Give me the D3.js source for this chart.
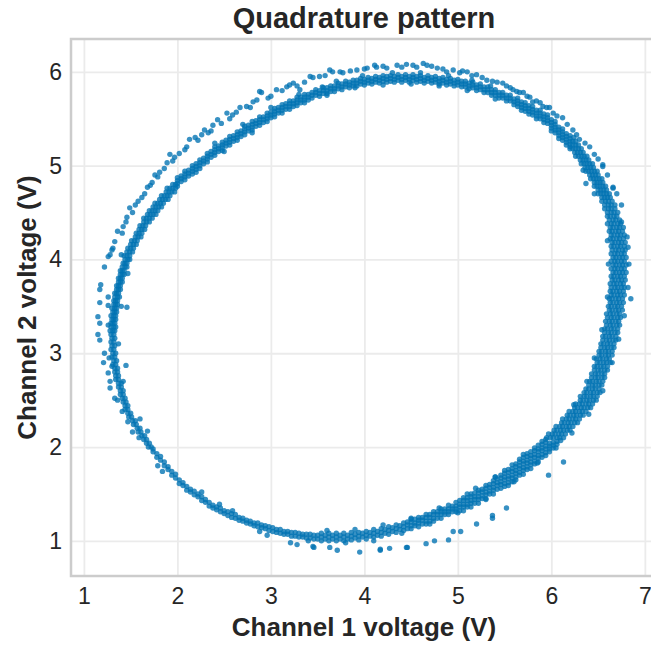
<!DOCTYPE html>
<html>
<head>
<meta charset="utf-8">
<script src="https://cdn.jsdelivr.net/npm/d3@7"></script>
<style>
  html, body { margin: 0; background: #fff; }
  svg { display: block; }
</style>
</head>
<body>
<svg id="chart" width="651" height="647"></svg>
<script>
// Axis ticks and labels
const xTicks = [1, 2, 3, 4, 5, 6, 7];
const yTicks = [1, 2, 3, 4, 5, 6];
const titleText = "Quadrature pattern";
const xLabelText = "Channel 1 voltage (V)";
const yLabelText = "Channel 2 voltage (V)";

// Left side of the loop: [ch2, ch1, ch1, ...]
const leftRows = [
  [2.00,1.69,1.72],[2.04,1.67,1.70],[2.08,1.64,1.67],[2.12,1.62,1.65],[2.16,1.58,1.61],
  [2.20,1.57,1.60],[2.24,1.53,1.56],[2.28,1.52,1.55],[2.32,1.48,1.51],[2.36,1.47,1.50],
  [2.40,1.44,1.47],[2.44,1.44,1.47],[2.48,1.42,1.45],[2.52,1.41,1.44],[2.56,1.39,1.42],
  [2.60,1.39,1.42],[2.64,1.37,1.40],[2.68,1.37,1.40],[2.72,1.34,1.37],[2.76,1.34,1.37],
  [2.80,1.33,1.36],[2.84,1.33,1.36],[2.88,1.31,1.34],[2.92,1.32,1.35],[2.96,1.30,1.33],
  [3.00,1.31,1.34],[3.04,1.29,1.32],[3.08,1.30,1.33],[3.12,1.29,1.32],[3.16,1.30,1.33],
  [3.20,1.29,1.32],[3.24,1.28,1.31,1.33],[3.28,1.29,1.32,1.34],[3.32,1.29,1.31,1.33],
  [3.36,1.30,1.32,1.34],[3.40,1.29,1.32,1.34],[3.44,1.31,1.33,1.35],[3.48,1.30,1.33,1.35],
  [3.52,1.32,1.34,1.36],[3.56,1.32,1.34,1.36],[3.60,1.33,1.36,1.38],[3.64,1.33,1.35,1.37],
  [3.68,1.35,1.37,1.39],[3.72,1.35,1.37,1.39],[3.76,1.37,1.39,1.41],[3.80,1.37,1.39,1.41],
  [3.84,1.39,1.41,1.43],[3.88,1.39,1.41,1.43],[3.92,1.41,1.44,1.46],[3.96,1.42,1.44,1.46],
  [4.00,1.44,1.47,1.49],[4.04,1.43,1.46,1.49],[4.08,1.46,1.49,1.52],[4.12,1.47,1.50,1.53],
  [4.16,1.50,1.53,1.56],[4.20,1.51,1.54,1.57],[4.24,1.55,1.58,1.61],[4.28,1.56,1.59,1.62],
  [4.32,1.59,1.62,1.65],[4.36,1.60,1.63,1.66],[4.40,1.64,1.67,1.70],
  [4.44,1.64,1.67,1.70,1.73],[4.48,1.68,1.71,1.74,1.77],[4.52,1.70,1.73,1.76,1.79],
  [4.56,1.74,1.77,1.80,1.83],[4.60,1.76,1.79,1.82,1.85],[4.64,1.81,1.84,1.87,1.90],
  [4.68,1.83,1.86,1.89,1.92],[4.72,1.88,1.91,1.94,1.97],[4.76,1.89,1.92,1.95,1.98],
  [4.80,1.95,1.98]
];

// Upper arc of the loop: [ch1, ch2, ch2, ...]
const topRows = [
  [2.00,4.78,4.81,4.84,4.87],[2.04,4.83,4.86,4.89],[2.08,4.85,4.88,4.91,4.94],[2.12,4.89,4.92,4.95],
  [2.16,4.91,4.94,4.97,5.00],[2.20,4.96,4.99,5.02],[2.24,4.97,5.00,5.03,5.06],[2.28,5.02,5.05,5.08],
  [2.32,5.04,5.07,5.10,5.13],[2.36,5.09,5.12,5.15],[2.40,5.11,5.14,5.17,5.20],[2.44,5.15,5.18,5.21],
  [2.48,5.16,5.19,5.22,5.25],[2.52,5.21,5.24,5.27],[2.56,5.22,5.25,5.28,5.31],[2.60,5.26,5.29,5.32],
  [2.64,5.27,5.30,5.33,5.36],[2.68,5.31,5.34,5.37],[2.72,5.33,5.36,5.39,5.42],[2.76,5.37,5.40,5.43],
  [2.80,5.38,5.41,5.44,5.47],[2.84,5.42,5.45,5.48],[2.88,5.43,5.46,5.49,5.52],[2.92,5.46,5.49,5.52],
  [2.96,5.47,5.50,5.53,5.56],[3.00,5.51,5.54,5.57],[3.04,5.52,5.55,5.58,5.61],[3.08,5.56,5.59,5.62],
  [3.12,5.56,5.59,5.62,5.65],[3.16,5.60,5.63,5.66],[3.20,5.60,5.63,5.66,5.69],[3.24,5.63,5.66,5.69],
  [3.28,5.64,5.67,5.70,5.73],[3.32,5.67,5.70,5.73],[3.36,5.67,5.70,5.73,5.76],[3.40,5.70,5.73,5.76],
  [3.44,5.72,5.75,5.78],[3.48,5.75,5.78,5.81],[3.52,5.74,5.77,5.80],[3.56,5.77,5.80,5.83],
  [3.60,5.77,5.80,5.83],[3.64,5.79,5.82,5.85],[3.68,5.79,5.82,5.85],[3.72,5.82,5.85,5.88],
  [3.76,5.81,5.84,5.87],[3.80,5.84,5.87,5.90],[3.84,5.83,5.86,5.89],[3.88,5.85,5.88,5.91],
  [3.92,5.85,5.88,5.91],[3.96,5.87,5.90,5.93],[4.00,5.86,5.89,5.92],[4.04,5.88,5.91,5.94],
  [4.08,5.87,5.90,5.93],[4.12,5.89,5.92,5.95],[4.16,5.88,5.91,5.94],[4.20,5.90,5.93,5.96],
  [4.24,5.89,5.92,5.95],[4.28,5.90,5.93,5.96],[4.32,5.89,5.92,5.95],[4.36,5.91,5.94,5.97],
  [4.40,5.89,5.92,5.95],[4.44,5.91,5.94,5.97],[4.48,5.89,5.92,5.95],[4.52,5.91,5.94,5.97],
  [4.56,5.89,5.92,5.95],[4.60,5.90,5.93,5.96],[4.64,5.88,5.91,5.94],[4.68,5.90,5.93,5.96],
  [4.72,5.88,5.91,5.94],[4.76,5.89,5.92,5.95],[4.80,5.87,5.90,5.93],[4.84,5.88,5.91,5.94],
  [4.88,5.86,5.89,5.92],[4.92,5.87,5.90,5.93],[4.96,5.85,5.88,5.91],[5.00,5.86,5.89,5.92],
  [5.04,5.84,5.87,5.90],[5.08,5.84,5.87,5.90],[5.12,5.82,5.85,5.88],[5.16,5.83,5.86,5.89],
  [5.20,5.80,5.83,5.86],[5.24,5.81,5.84,5.87],[5.28,5.78,5.81,5.84],[5.32,5.78,5.81,5.84],
  [5.36,5.75,5.78,5.81],[5.40,5.75,5.78,5.81],[5.44,5.72,5.75,5.78],[5.48,5.72,5.75,5.78],
  [5.52,5.69,5.72,5.75],[5.56,5.69,5.72,5.75],[5.60,5.65,5.68,5.71],
  [5.64,5.63,5.66,5.69,5.72],[5.68,5.59,5.62,5.65,5.68],[5.72,5.58,5.61,5.64,5.67],
  [5.76,5.55,5.58,5.61,5.64],[5.80,5.54,5.57,5.60,5.63],[5.84,5.50,5.53,5.56,5.59],
  [5.88,5.50,5.53,5.56,5.59],[5.92,5.46,5.49,5.52,5.55],[5.96,5.45,5.48,5.51,5.54],
  [6.00,5.37,5.40,5.43,5.46,5.49],[6.04,5.35,5.38,5.41,5.44,5.47],[6.08,5.29,5.32,5.35,5.38,5.41],
  [6.12,5.27,5.30,5.33,5.36,5.39],[6.16,5.22,5.25,5.28,5.31,5.34],[6.20,5.20,5.23,5.26,5.29,5.32]
];

// Right side of the loop: [ch2, ch1, ch1, ...]
const rightRows = [
  [5.30,6.24],[5.26,6.23,6.26],[5.22,6.23,6.26,6.29],
  [5.18,6.20,6.23,6.26,6.29,6.32],[5.14,6.25,6.28,6.31,6.34],[5.10,6.26,6.29,6.32,6.35,6.38],
  [5.06,6.31,6.34,6.37,6.40],[5.02,6.32,6.35,6.38,6.41,6.44],[4.98,6.36,6.39,6.42,6.45],
  [4.94,6.37,6.40,6.43,6.46,6.49],[4.90,6.41,6.44,6.47,6.50],[4.86,6.42,6.45,6.48,6.51,6.54],
  [4.82,6.46,6.49,6.52,6.55],[4.78,6.46,6.49,6.52,6.55,6.58],[4.74,6.50,6.53,6.56,6.59],
  [4.70,6.50,6.53,6.56,6.59,6.62],[4.66,6.54,6.57,6.60,6.63],
  [4.62,6.54,6.58,6.61,6.65],[4.58,6.57,6.61,6.64,6.68],[4.54,6.57,6.61,6.64,6.68],
  [4.50,6.60,6.64,6.67,6.71],[4.46,6.60,6.63,6.67,6.70],[4.42,6.62,6.66,6.69,6.73],
  [4.38,6.60,6.64,6.67,6.71,6.74],[4.34,6.63,6.66,6.70,6.73,6.77],[4.30,6.62,6.65,6.69,6.72,6.76],
  [4.26,6.64,6.67,6.71,6.74,6.78],[4.22,6.63,6.66,6.70,6.73,6.77],[4.18,6.65,6.68,6.72,6.75,6.79],
  [4.14,6.64,6.67,6.71,6.74,6.78],[4.10,6.65,6.69,6.72,6.76,6.79],[4.06,6.64,6.68,6.71,6.75,6.78],
  [4.02,6.66,6.69,6.73,6.76,6.80],[3.98,6.64,6.68,6.71,6.75,6.78],[3.94,6.66,6.69,6.73,6.76,6.80],
  [3.90,6.64,6.68,6.71,6.75,6.78],[3.86,6.66,6.69,6.73,6.76,6.80],[3.82,6.64,6.67,6.71,6.74,6.78],
  [3.78,6.65,6.68,6.72,6.75,6.79],[3.74,6.63,6.67,6.70,6.74,6.77],[3.70,6.64,6.68,6.71,6.75,6.78],
  [3.66,6.63,6.66,6.70,6.73,6.77],[3.62,6.64,6.67,6.71,6.74,6.78],[3.58,6.62,6.65,6.69,6.72,6.76],
  [3.54,6.63,6.66,6.70,6.73,6.77],[3.50,6.61,6.64,6.68,6.71,6.75],[3.46,6.62,6.65,6.69,6.72,6.76],
  [3.42,6.59,6.63,6.66,6.70,6.73],[3.38,6.60,6.64,6.67,6.71,6.74],[3.34,6.58,6.62,6.65,6.69,6.72],
  [3.30,6.59,6.63,6.66,6.70,6.73],[3.26,6.57,6.60,6.64,6.67,6.71],[3.22,6.57,6.61,6.64,6.68,6.71],
  [3.18,6.55,6.58,6.62,6.65,6.69],[3.14,6.55,6.59,6.62,6.66,6.69],[3.10,6.53,6.56,6.60,6.63,6.67],
  [3.06,6.53,6.57,6.60,6.64,6.67],[3.02,6.51,6.54,6.58,6.61,6.65],[2.98,6.51,6.54,6.58,6.61,6.65],
  [2.94,6.48,6.52,6.55,6.59,6.62],[2.90,6.49,6.52,6.56,6.59,6.63],[2.86,6.46,6.49,6.53,6.56,6.60],
  [2.82,6.46,6.50,6.53,6.57,6.60],[2.78,6.43,6.47,6.50,6.54,6.57],[2.74,6.43,6.47,6.50,6.54,6.57],
  [2.70,6.41,6.44,6.48,6.51,6.55],[2.66,6.40,6.44,6.47,6.51,6.54],[2.62,6.37,6.40,6.44,6.47,6.51],
  [2.58,6.35,6.38,6.42,6.45,6.49,6.52],[2.54,6.31,6.35,6.38,6.42,6.45,6.49],
  [2.50,6.31,6.34,6.38,6.41,6.45,6.48],[2.46,6.26,6.30,6.33,6.37,6.40,6.44],
  [2.42,6.25,6.28,6.32,6.35,6.39,6.42],[2.38,6.19,6.23,6.26,6.30,6.33,6.37],
  [2.34,6.17,6.20,6.24,6.27,6.31,6.34],[2.30,6.12,6.16,6.19,6.23,6.26,6.30],
  [2.26,6.11,6.14,6.18,6.21,6.25,6.28],[2.22,6.05,6.09,6.12,6.16,6.19,6.23],
  [2.18,6.03,6.06,6.10,6.13,6.17,6.20],[2.14,5.97,6.01,6.04,6.08,6.11,6.15],
  [2.10,5.95,5.99,6.02,6.06,6.09,6.13]
];

// Lower arc of the loop: [ch1, ch2, ch2, ...]
const bottomRows = [
  [6.10,2.07],[6.06,2.03,2.06],[6.02,1.99,2.02,2.05],[5.98,1.95,1.98,2.01,2.04],
  [5.94,1.91,1.94,1.98,2.01,2.05,2.08],[5.90,1.89,1.92,1.96,1.99,2.03,2.06],
  [5.86,1.84,1.88,1.91,1.95,1.98,2.02],[5.82,1.82,1.85,1.89,1.92,1.96,1.99],
  [5.78,1.77,1.81,1.84,1.88,1.91,1.95],[5.74,1.76,1.79,1.83,1.86,1.90,1.93],
  [5.70,1.71,1.75,1.78,1.82,1.85,1.89],[5.66,1.70,1.73,1.77,1.80,1.84,1.87],
  [5.62,1.65,1.68,1.72,1.75,1.79,1.82],[5.58,1.63,1.67,1.70,1.74,1.77,1.81],
  [5.54,1.59,1.62,1.66,1.69,1.73,1.76],[5.50,1.58,1.61,1.65,1.68,1.72,1.75],
  [5.46,1.56,1.60,1.63,1.67,1.70],[5.42,1.55,1.59,1.62,1.66],[5.38,1.50,1.54,1.57,1.61,1.64],
  [5.34,1.50,1.53,1.57,1.60],[5.30,1.45,1.49,1.52,1.56,1.59],[5.26,1.45,1.48,1.52,1.55],
  [5.22,1.40,1.44,1.47,1.51,1.54],[5.18,1.40,1.44,1.47,1.51],[5.14,1.36,1.40,1.43,1.47,1.50],
  [5.10,1.36,1.39,1.43,1.46],[5.06,1.32,1.36,1.39,1.43,1.46],[5.02,1.32,1.36,1.39,1.43],
  [4.98,1.31,1.34,1.37,1.41],[4.94,1.31,1.34,1.37],[4.90,1.28,1.31,1.34,1.38],[4.86,1.28,1.31,1.34],
  [4.82,1.24,1.28,1.31,1.34],[4.78,1.24,1.28,1.31],[4.74,1.21,1.24,1.28,1.31],[4.70,1.21,1.25,1.28],
  [4.66,1.18,1.21,1.25,1.28],[4.62,1.18,1.22,1.25],[4.58,1.15,1.19,1.22,1.25],[4.54,1.16,1.19,1.23],
  [4.50,1.13,1.16,1.20,1.23],[4.46,1.13,1.17,1.20],
  [4.42,1.11,1.15,1.19],[4.38,1.12,1.16],[4.34,1.09,1.13,1.17],[4.30,1.10,1.14],[4.26,1.07,1.11,1.15],
  [4.22,1.08,1.12],[4.18,1.05,1.09,1.13],[4.14,1.06,1.10],[4.10,1.04,1.08,1.12],[4.06,1.05,1.09],
  [4.02,1.02,1.06,1.10],[3.98,1.04,1.08],[3.94,1.01,1.05,1.09],[3.90,1.03,1.07],[3.86,1.01,1.05,1.09],
  [3.82,1.02,1.06],[3.78,1.00,1.04,1.08],[3.74,1.02,1.06],[3.70,1.00,1.04,1.08],[3.66,1.02,1.06],
  [3.62,1.00,1.04,1.08],[3.58,1.02,1.06],[3.54,1.00,1.04,1.08],[3.50,1.02,1.06],
  [3.46,1.02,1.06],[3.42,1.03,1.07],[3.38,1.03,1.07],[3.34,1.04,1.07],[3.30,1.04,1.08],
  [3.26,1.05,1.09],[3.22,1.05,1.09],[3.18,1.07,1.10],[3.14,1.07,1.10],[3.10,1.08,1.12],
  [3.06,1.09,1.12],[3.02,1.10,1.14],[2.98,1.11,1.15],[2.94,1.13,1.16],[2.90,1.14,1.17],
  [2.86,1.15,1.19],[2.82,1.16,1.19],[2.78,1.18,1.21],[2.74,1.19,1.22],[2.70,1.21,1.24],
  [2.66,1.22,1.25],[2.62,1.24,1.28],[2.58,1.25,1.29],[2.54,1.27,1.31],[2.50,1.29,1.32],
  [2.46,1.31,1.35],[2.42,1.33,1.36],[2.38,1.35,1.38],[2.34,1.37,1.41],[2.30,1.41,1.44],
  [2.26,1.43,1.47],[2.22,1.47,1.50],[2.18,1.49,1.53],[2.14,1.52,1.55],[2.10,1.54,1.58],
  [2.06,1.59,1.62],[2.02,1.61,1.65],[1.98,1.67,1.71],[1.94,1.70,1.74],[1.90,1.76,1.79],
  [1.86,1.80,1.84],[1.82,1.86,1.90],[1.78,1.89,1.93],[1.74,1.95,1.98]
];

// Faint second trace just outside the loop: [ch1, ch2]
const outerArc = [
  [1.33,2.52],[1.28,2.63],[1.28,2.70],[1.26,2.79],[1.21,2.90],[1.22,3.00],[1.17,3.14],[1.15,3.20],
  [1.17,3.32],[1.15,3.39],[1.17,3.54],[1.17,3.68],[1.18,3.73],[1.22,3.92],[1.26,4.03],[1.28,4.05],
  [1.30,4.10],[1.31,4.12],[1.33,4.19],[1.41,4.28],[1.42,4.35],[1.46,4.45],[1.49,4.55],[1.55,4.58],
  [1.62,4.66],[1.68,4.77],[1.73,4.82],[1.76,4.90],[1.81,4.93],[1.89,5.03],[1.92,5.12],[1.97,5.09],
  [2.08,5.17],[2.13,5.28],[2.19,5.30],[2.29,5.38],[2.33,5.35],[2.38,5.43],[2.43,5.49],[2.53,5.56],
  [2.59,5.54],[2.67,5.62],[2.74,5.63],[2.81,5.68],[2.88,5.79],[2.90,5.78],[2.97,5.72],[3.06,5.81],
  [3.17,5.84],[3.20,5.86],[3.24,5.88],[3.31,5.81],[3.42,5.95],[3.45,5.94],[3.52,5.95],[3.63,6.02],
  [3.66,6.00],[3.74,6.00],[3.77,5.99],[3.92,6.02],[4.03,6.04],[4.11,6.07],[4.13,6.05],[4.24,6.04],
  [4.35,6.07],[4.45,6.08],[4.56,6.05],[4.63,6.09],[4.67,6.07],[4.78,6.04],[4.88,6.00],[4.95,6.02],
  [5.02,5.99],[5.10,6.00],[5.20,5.97],[5.31,5.91],[5.42,5.89],[5.48,5.88],[5.56,5.83],[5.59,5.81],
  [5.66,5.78],[5.70,5.78],[5.77,5.73],[5.80,5.68],[5.88,5.67],[5.91,5.63],[5.98,5.62],[6.02,5.56],
  [6.12,5.51],[6.23,5.38],[6.30,5.28],[6.41,5.20],[6.55,4.99],[6.55,5.01],[6.66,4.77],[6.66,4.76],
  [6.75,4.58],
  [1.36,4.30],[1.45,4.40],[1.52,4.50],[1.58,4.62],[1.65,4.70],[1.71,4.79],[1.79,4.88],[1.86,4.97],
  [1.95,5.05],[2.02,5.13],[2.10,5.20],[2.22,5.27],[2.26,5.33],[2.36,5.37],[2.47,5.45],[2.56,5.50],
  [2.63,5.57],[2.78,5.62],[2.85,5.70],[3.00,5.74],[3.12,5.80],[3.28,5.85],[3.36,5.89],[3.58,5.96],
  [3.85,6.01],[4.00,6.03],[4.20,6.06],[4.40,6.05],[4.52,6.07],[4.72,6.06],[4.84,6.03],[5.05,6.01],
  [5.15,5.96],[5.26,5.94],[5.37,5.90],[5.52,5.85],[5.63,5.79],[5.74,5.74],[5.84,5.69],[5.95,5.62],
  [6.06,5.53],[6.17,5.44],[6.27,5.33],[6.36,5.24],[6.46,5.12],[6.50,5.07],[6.60,4.90],[6.70,4.70]
];

// Isolated samples off the main band: [ch1, ch2]
const strayPoints = [
  [3.21,0.98],[3.28,0.96],[3.45,0.94],[3.46,0.93],[3.63,0.93],[3.71,0.90],[3.95,0.88],[4.17,0.90],
  [4.17,0.91],[4.27,0.92],[4.45,0.93],[4.46,0.93],[4.66,0.97],[4.75,1.00],[4.90,1.01],[4.95,1.10],
  [5.03,1.10],[5.20,1.18],[5.37,1.24],[5.37,1.27],[5.52,1.35],[5.97,1.70],[6.13,1.84],[2.96,1.06],
  [2.88,1.10],
  [1.46,3.49],[1.45,2.87],[1.68,2.17],[2.26,1.52],[2.59,1.32],[2.45,1.39],[5.19,1.56],[5.40,1.68],
  [6.37,4.81],[6.85,3.58],[6.82,4.13],[6.81,4.24],[1.41,2.38],[1.47,2.27],[1.52,2.16],[1.79,1.80],
  [1.84,1.74],[1.26,3.51],[1.30,2.86],
  [3.70,5.90],[3.98,5.96],[4.30,5.99],[4.60,5.99],[4.90,5.96],[5.15,5.91],[5.35,5.85],[3.55,5.84],
  [3.30,5.76],[3.00,5.62],[2.70,5.44],[2.40,5.24],[3.60,5.75],[3.90,5.83],[4.20,5.86],[4.50,5.87],
  [4.80,5.85],[5.10,5.80],[5.40,5.71],[2.80,5.35],[2.50,5.15],[2.20,4.93],
  [6.83,3.95],[6.82,3.70],[6.78,3.40],[6.72,3.15],[6.65,2.90],[6.55,2.60],[6.75,4.40],[6.40,2.35],
  [6.22,2.15],[6.61,3.95],[6.60,3.60],[6.54,3.25],[6.46,2.95],[6.38,2.70],[6.60,4.20],[6.24,2.45],
  [6.46,4.70],[6.34,4.95],
  [5.60,1.63],[5.30,1.44],[5.00,1.30],[4.70,1.18],[4.40,1.08],[4.10,1.00],[3.80,0.98],[3.40,1.00],
  [5.85,1.83],[6.05,1.99],[5.70,1.92],[5.40,1.68],[5.10,1.50],[4.80,1.35],[4.50,1.24],[4.20,1.17],
  [3.90,1.12],[3.60,1.11],
  [1.26,3.30],[1.26,3.60],[1.27,2.95],[1.36,2.50],[1.59,2.10],[1.40,4.05],[1.37,3.10],[1.40,3.50],
  [1.47,3.85],[1.42,2.70],[1.60,2.30]
];

// Collect every sample as [ch1, ch2]
const samples = [];
topRows.forEach(([c1, ...vals]) => vals.forEach(c2 => samples.push([c1, c2])));
bottomRows.forEach(([c1, ...vals]) => vals.forEach(c2 => samples.push([c1, c2])));
leftRows.forEach(([c2, ...vals]) => vals.forEach(c1 => samples.push([c1, c2])));
rightRows.forEach(([c2, ...vals]) => vals.forEach(c1 => samples.push([c1, c2])));
outerArc.forEach(p => samples.push(p));
strayPoints.forEach(p => samples.push(p));

// Layout: the axes box runs a little past the right edge of the canvas
const W = 651, H = 647;
const M = { left: 71, right: 657, top: 39, bottom: 576 };
const textColor = "#262626";
const fontFamily = "'Liberation Sans', Arial, Helvetica, sans-serif";

const svg = d3.select("#chart");
svg.append("rect").attr("width", W).attr("height", H).attr("fill", "#fff");

const x = d3.scaleLinear().domain([0.862, 7.13]).range([M.left, M.right]);
const y = d3.scaleLinear().domain([0.625, 6.35]).range([M.bottom, M.top]);

// Gridlines
svg.append("g")
  .attr("transform", `translate(0,${M.bottom})`)
  .call(d3.axisBottom(x).tickValues(xTicks).tickSize(-(M.bottom - M.top)).tickFormat(""))
  .call(g => g.select(".domain").remove())
  .call(g => g.selectAll("line").attr("stroke", "#ebebeb").attr("stroke-width", 1.8));

svg.append("g")
  .attr("transform", `translate(${M.left},0)`)
  .call(d3.axisLeft(y).tickValues(yTicks).tickSize(-(M.right - M.left)).tickFormat(""))
  .call(g => g.select(".domain").remove())
  .call(g => g.selectAll("line").attr("stroke", "#ebebeb").attr("stroke-width", 1.8));

// Scatter
svg.append("g")
  .selectAll("circle")
  .data(samples)
  .join("circle")
  .attr("cx", d => x(d[0]))
  .attr("cy", d => y(d[1]))
  .attr("r", 2.7)
  .attr("fill", "#0072B2")
  .attr("fill-opacity", 0.78);

// Frame
svg.append("rect")
  .attr("x", M.left).attr("y", M.top)
  .attr("width", M.right - M.left).attr("height", M.bottom - M.top)
  .attr("fill", "none").attr("stroke", "#cccccc").attr("stroke-width", 2.5);

// Tick labels
const xAxis = svg.append("g")
  .attr("transform", `translate(0,${M.bottom})`)
  .call(d3.axisBottom(x).tickValues(xTicks).tickSize(0).tickPadding(12).tickFormat(d3.format("d")));
const yAxis = svg.append("g")
  .attr("transform", `translate(${M.left},0)`)
  .call(d3.axisLeft(y).tickValues(yTicks).tickSize(0).tickPadding(9).tickFormat(d3.format("d")));
[xAxis, yAxis].forEach(g => {
  g.select(".domain").remove();
  g.selectAll("text")
    .attr("fill", textColor)
    .style("font-family", fontFamily)
    .style("font-size", "23px");
});

// Titles
svg.append("text")
  .attr("x", (M.left + M.right) / 2).attr("y", 28)
  .attr("text-anchor", "middle")
  .attr("fill", textColor)
  .style("font-family", fontFamily).style("font-weight", "bold").style("font-size", "29px")
  .text(titleText);

svg.append("text")
  .attr("x", (M.left + M.right) / 2).attr("y", 636)
  .attr("text-anchor", "middle")
  .attr("fill", textColor)
  .style("font-family", fontFamily).style("font-weight", "bold").style("font-size", "26px")
  .text(xLabelText);

svg.append("text")
  .attr("transform", `translate(36,${(M.top + M.bottom) / 2}) rotate(-90)`)
  .attr("text-anchor", "middle")
  .attr("fill", textColor)
  .style("font-family", fontFamily).style("font-weight", "bold").style("font-size", "26px")
  .text(yLabelText);
</script>
</body>
</html>
